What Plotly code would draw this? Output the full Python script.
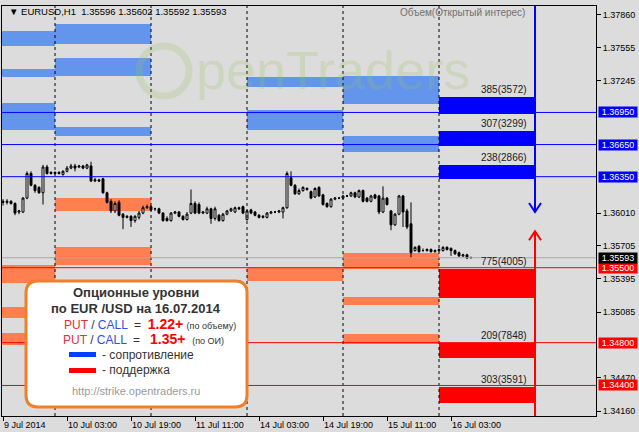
import plotly.graph_objects as go

# ---------------- data ----------------
bars = list(range(118))
opens = [1.3612,1.3611,1.3612,1.3610,1.3602,1.3602,1.3615,1.3638,1.3627,1.3625,
         1.3620,1.3644,1.3638,1.3639,1.3638,1.3637,1.3640,1.3643,1.3645,1.3644,
         1.3645,1.3643,1.3645,1.3631,1.3632,1.3633,1.3620,1.3612,1.3603,1.3611,
         1.3600,1.3597,1.3598,1.3594,1.3597,1.3601,1.3606,1.3607,1.3605,1.3605,
         1.3601,1.3596,1.3594,1.3601,1.3602,1.3598,1.3595,1.3601,1.3610,1.3609,
         1.3601,1.3601,1.3605,1.3596,1.3599,1.3594,1.3600,1.3603,1.3602,1.3606,
         1.3607,1.3595,1.3604,1.3602,1.3599,1.3597,1.3597,1.3601,1.3602,1.3602,
         1.3602,1.3606,1.3634,1.3627,1.3619,1.3622,1.3624,1.3621,1.3616,1.3625,
         1.3618,1.3610,1.3607,1.3614,1.3615,1.3615,1.3617,1.3617,1.3620,1.3616,
         1.3622,1.3615,1.3612,1.3618,1.3617,1.3602,1.3615,1.3603,1.3590,1.3600,
         1.3617,1.3603,1.3591,1.3566,1.3570,1.3566,1.3566,1.3567,1.3565,1.3566,
         1.3566,1.3569,1.3568,1.3566,1.3564,1.3561,1.3562,1.35596]
highs = [1.3614,1.3614,1.3613,1.3611,1.3604,1.3616,1.3640,1.3640,1.3628,1.3626,
         1.3646,1.3646,1.3640,1.3640,1.3640,1.3641,1.3645,1.3647,1.3647,1.3646,
         1.3646,1.3647,1.3649,1.3634,1.3633,1.3634,1.3621,1.3614,1.3612,1.3613,
         1.3601,1.3599,1.3599,1.3599,1.3603,1.3608,1.3609,1.3608,1.3606,1.3606,
         1.3602,1.3598,1.3602,1.3603,1.3603,1.3599,1.3602,1.3623,1.3612,1.3611,
         1.3603,1.3607,1.3606,1.3607,1.3600,1.3601,1.3604,1.3606,1.3607,1.3607,
         1.3608,1.3604,1.3605,1.3603,1.3600,1.3599,1.3602,1.3603,1.3603,1.3604,
         1.3607,1.3640,1.3640,1.3628,1.3624,1.3626,1.3625,1.3622,1.3625,1.3626,
         1.3619,1.3611,1.3615,1.3616,1.3616,1.3618,1.3618,1.3621,1.3621,1.3623,
         1.3623,1.3616,1.3618,1.3619,1.3618,1.3626,1.3616,1.3604,1.3601,1.3618,
         1.3618,1.3605,1.3611,1.3570,1.3571,1.3568,1.3568,1.3568,1.3567,1.3568,
         1.3570,1.3570,1.3569,1.3567,1.3565,1.3563,1.3563,1.35602]
lows = [1.3608,1.3609,1.3609,1.3599,1.3600,1.3601,1.3614,1.3626,1.3620,1.3619,
        1.3609,1.3637,1.3637,1.3637,1.3637,1.3636,1.3639,1.3642,1.3640,1.3643,
        1.3642,1.3642,1.3630,1.3630,1.3630,1.3619,1.3610,1.3601,1.3601,1.3598,
        1.3586,1.3596,1.3588,1.3592,1.3595,1.3600,1.3605,1.3603,1.3603,1.3600,
        1.3593,1.3593,1.3593,1.3600,1.3597,1.3594,1.3594,1.3600,1.3600,1.3600,
        1.3600,1.3600,1.3591,1.3594,1.3593,1.3593,1.3599,1.3602,1.3601,1.3604,
        1.3600,1.3594,1.3600,1.3598,1.3596,1.3596,1.3596,1.3600,1.3601,1.3601,
        1.3596,1.3605,1.3626,1.3618,1.3618,1.3621,1.3622,1.3614,1.3615,1.3616,
        1.3608,1.3606,1.3606,1.3613,1.3614,1.3614,1.3616,1.3616,1.3615,1.3615,
        1.3611,1.3611,1.3611,1.3614,1.3600,1.3601,1.3608,1.3585,1.3589,1.3599,
        1.3588,1.3586,1.3559,1.3565,1.3564,1.3565,1.3565,1.3564,1.3564,1.3565,
        1.3565,1.3566,1.3561,1.3562,1.3560,1.3560,1.3558,1.35592]
closes = [1.3611,1.3612,1.3610,1.3601,1.3603,1.3615,1.3638,1.3627,1.3622,1.3620,
          1.3644,1.3638,1.3639,1.3638,1.3639,1.3640,1.3643,1.3645,1.3643,1.3645,
          1.3643,1.3646,1.3631,1.3632,1.3631,1.3620,1.3611,1.3603,1.3610,1.3599,
          1.3597,1.3598,1.3594,1.3598,1.3601,1.3606,1.3607,1.3604,1.3605,1.3601,
          1.3594,1.3594,1.3601,1.3602,1.3598,1.3595,1.3600,1.3610,1.3601,1.3601,
          1.3602,1.3605,1.3596,1.3605,1.3594,1.3600,1.3603,1.3605,1.3606,1.3605,
          1.3601,1.3603,1.3601,1.3599,1.3597,1.3598,1.3601,1.3602,1.3602,1.3603,
          1.3606,1.3638,1.3627,1.3619,1.3622,1.3625,1.3623,1.3615,1.3624,1.3617,
          1.3609,1.3607,1.3614,1.3615,1.3615,1.3617,1.3617,1.3620,1.3616,1.3622,
          1.3612,1.3612,1.3617,1.3615,1.3602,1.3615,1.3609,1.3590,1.3600,1.3617,
          1.3602,1.3588,1.3564,1.3569,1.3565,1.3566,1.3567,1.3565,1.3566,1.3567,
          1.3569,1.3567,1.3566,1.3563,1.3561,1.3562,1.3559,1.35593]

tick_bars = [0, 16, 32, 48, 64, 80, 96, 112]
tick_labels = ["9 Jul 2014", "10 Jul 03:00", "10 Jul 19:00", "11 Jul 11:00",
               "14 Jul 03:00", "14 Jul 19:00", "15 Jul 11:00", "16 Jul 03:00"]
price_ticks = [1.37860, 1.37555, 1.37245, 1.36010, 1.35705, 1.35395, 1.35085,
               1.34470, 1.34160]

day_separators = [13, 37, 61, 85, 109]
day_columns = [(-0.25, 13), (13, 37), (37, 61), (61, 85), (85, 109), (109, 133)]

# past option levels: (day column, low, high)
past_resistance = [(0, 1.37570, 1.37710), (0, 1.37281, 1.37356), (0, 1.36786, 1.37038),
                   (1, 1.37589, 1.37776), (1, 1.37290, 1.37458), (1, 1.36730, 1.36814),
                   (3, 1.37187, 1.37281), (3, 1.36786, 1.36973),
                   (4, 1.37029, 1.37290), (4, 1.36580, 1.36730)]
past_support = [(0, 1.35357, 1.35525), (0, 1.35030, 1.35133), (0, 1.34778, 1.34890),
                (1, 1.36029, 1.36151), (1, 1.35525, 1.35693),
                (3, 1.35375, 1.35497),
                (4, 1.35488, 1.35637), (4, 1.35151, 1.35226), (4, 1.34787, 1.34880)]
# current day levels: (low, high, label)
today_resistance = [(1.36935, 1.37094, "385(3572)"), (1.36636, 1.36776, "307(3299)"),
                    (1.36328, 1.36459, "238(2866)")]
today_support = [(1.35217, 1.35488, "775(4005)"), (1.34656, 1.34796, "209(7848)"),
                 (1.34236, 1.34385, "303(3591)")]
resistance_lines = [1.3695, 1.3665, 1.3635]
support_lines = [1.3550, 1.3480, 1.3440]
last_price = 1.35593
arrow_bar = 133
resistance_arrow_tip = 1.3602
support_arrow_tip = 1.3584

x_range = [-0.25, 148.25]
y_range = [1.34115, 1.37944]

FONT = "Liberation Sans, Arial, DejaVu Sans"
BLUE_L, ORANGE_L, BLUE, RED = "#6495ED", "#FF7F50", "#0000FF", "#FF0000"

fig = go.Figure()
fig.add_trace(go.Candlestick(
    x=bars, open=opens, high=highs, low=lows, close=closes,
    increasing=dict(line=dict(color="black", width=1), fillcolor="white"),
    decreasing=dict(line=dict(color="black", width=1), fillcolor="black"),
    whiskerwidth=0, showlegend=False, hoverinfo="skip"))

shapes = []
for col, lo, hi in past_resistance:
    x0, x1 = day_columns[col]
    shapes.append(dict(type="rect", xref="x", yref="y", x0=x0, x1=x1, y0=lo, y1=hi,
                       fillcolor=BLUE_L, line=dict(width=0), layer="below"))
for col, lo, hi in past_support:
    x0, x1 = day_columns[col]
    shapes.append(dict(type="rect", xref="x", yref="y", x0=x0, x1=x1, y0=lo, y1=hi,
                       fillcolor=ORANGE_L, line=dict(width=0), layer="below"))
x0, x1 = day_columns[5]
for lo, hi, _ in today_resistance:
    shapes.append(dict(type="rect", xref="x", yref="y", x0=x0, x1=x1, y0=lo, y1=hi,
                       fillcolor=BLUE, line=dict(width=0), layer="below"))
for lo, hi, _ in today_support:
    shapes.append(dict(type="rect", xref="x", yref="y", x0=x0, x1=x1, y0=lo, y1=hi,
                       fillcolor=RED, line=dict(width=0), layer="below"))

for s in day_separators:
    shapes.append(dict(type="line", xref="x", yref="paper", x0=s, x1=s, y0=0, y1=1,
                       line=dict(color="black", width=1, dash="3px,3px")))
for lv in resistance_lines:
    shapes.append(dict(type="line", xref="paper", yref="y", x0=0, x1=1, y0=lv, y1=lv,
                       line=dict(color=BLUE, width=1)))
for lv in support_lines:
    shapes.append(dict(type="line", xref="paper", yref="y", x0=0, x1=1, y0=lv, y1=lv,
                       line=dict(color=RED, width=1)))
shapes.append(dict(type="line", xref="paper", yref="y", x0=0, x1=1, y0=last_price,
                   y1=last_price, line=dict(color="#A8A8A8", width=1)))

# arrows
shapes.append(dict(type="line", xref="x", yref="y", x0=arrow_bar, x1=arrow_bar,
                   y0=y_range[1], y1=resistance_arrow_tip, line=dict(color=BLUE, width=2)))
shapes.append(dict(type="path", xref="x", yref="y",
                   path=f"M {arrow_bar-1.5},{resistance_arrow_tip+0.00084} L {arrow_bar},{resistance_arrow_tip} L {arrow_bar+1.5},{resistance_arrow_tip+0.00084}",
                   line=dict(color=BLUE, width=2)))
shapes.append(dict(type="line", xref="x", yref="y", x0=arrow_bar, x1=arrow_bar,
                   y0=y_range[0], y1=support_arrow_tip, line=dict(color=RED, width=2)))
shapes.append(dict(type="path", xref="x", yref="y",
                   path=f"M {arrow_bar-1.5},{support_arrow_tip-0.00084} L {arrow_bar},{support_arrow_tip} L {arrow_bar+1.5},{support_arrow_tip-0.00084}",
                   line=dict(color=RED, width=2)))

# pixel helpers for decorative overlay (plot area 2..596 x 6..416)
def px(v):
    return (v - 2) / 594.0
def py(v):
    return 1 - (v - 6) / 410.0

# watermark ring
shapes.append(dict(type="circle", xref="paper", yref="paper", x0=px(139), x1=px(189),
                   y0=py(96), y1=py(46), line=dict(color="rgba(150,195,90,0.22)", width=7)))

# legend box (rounded)
L, R, T, B, r = 26, 247, 281, 407, 12
path = (f"M {px(L+r)},{py(T)} L {px(R-r)},{py(T)} Q {px(R)},{py(T)} {px(R)},{py(T+r)} "
        f"L {px(R)},{py(B-r)} Q {px(R)},{py(B)} {px(R-r)},{py(B)} "
        f"L {px(L+r)},{py(B)} Q {px(L)},{py(B)} {px(L)},{py(B-r)} "
        f"L {px(L)},{py(T+r)} Q {px(L)},{py(T)} {px(L+r)},{py(T)} Z")
shapes.append(dict(type="path", xref="paper", yref="paper", path=path,
                   fillcolor="white", line=dict(color="#F08028", width=3)))
shapes.append(dict(type="rect", xref="paper", yref="paper", x0=px(69), x1=px(96),
                   y0=py(357), y1=py(352), fillcolor="#0040FF", line=dict(width=0)))
shapes.append(dict(type="rect", xref="paper", yref="paper", x0=px(69), x1=px(96),
                   y0=py(373), y1=py(368), fillcolor=RED, line=dict(width=0)))

annotations = []
for lo, hi, lab in today_resistance + today_support:
    annotations.append(dict(x=131.5, y=hi, xref="x", yref="y", text=lab, showarrow=False,
                            xanchor="right", yanchor="bottom", yshift=0,
                            font=dict(family=FONT, size=10, color="#202020")))

def price_box(p, color):
    return dict(x=1, y=p, xref="paper", yref="y", text=f"{p:.5f}", showarrow=False,
                xanchor="left", yanchor="middle", xshift=2, width=38, height=10,
                bgcolor=color, borderpad=0, font=dict(family=FONT, size=9, color="white"))
for lv in resistance_lines:
    annotations.append(price_box(lv, BLUE))
for lv in support_lines:
    annotations.append(price_box(lv, RED))
annotations.append(price_box(last_price, "black"))

annotations.append(dict(x=px(7), y=py(11), xref="paper", yref="paper", showarrow=False,
                        xanchor="left", yanchor="middle",
                        text="▼ EURUSD,H1  1.35596 1.35602 1.35592 1.35593",
                        font=dict(family=FONT, size=9.5, color="black")))
annotations.append(dict(x=px(527), y=py(12), xref="paper", yref="paper", showarrow=False,
                        xanchor="right", yanchor="middle", text="Объем(Открытый интерес)",
                        font=dict(family=FONT, size=10, color="#707070")))
annotations.append(dict(x=px(194), y=py(70), xref="paper", yref="paper", showarrow=False,
                        xanchor="left", yanchor="middle", text="penTraders",
                        font=dict(family=FONT, size=54, color="rgba(150,195,90,0.22)")))

# legend box texts
annotations += [
    dict(x=px(136), y=py(292), text="<b>Опционные уровни</b>",
         font=dict(family=FONT, size=13, color="#333333")),
    dict(x=px(136), y=py(308), text="<b>по EUR /USD на 16.07.2014</b>",
         font=dict(family=FONT, size=13, color="#333333")),
    dict(x=px(150), y=py(324),
         text="<span style='color:#E03038'>PUT</span> / <span style='color:#3050D8'>CALL</span>"
              "  =  <b><span style='color:#FF0000;font-size:14px'>1.22+</span></b> "
              "<span style='font-size:9px'>(по объему)</span>",
         font=dict(family=FONT, size=12, color="#333333")),
    dict(x=px(143), y=py(339),
         text="<span style='color:#E03038'>PUT</span> / <span style='color:#3050D8'>CALL</span>"
              "  =   <b><span style='color:#FF0000;font-size:14px'>1.35+</span></b>  "
              "<span style='font-size:9px'>(по ОИ)</span>",
         font=dict(family=FONT, size=12, color="#333333")),
    dict(x=px(100), y=py(355), text="- сопротивление", xanchor="left",
         font=dict(family=FONT, size=12, color="#333333")),
    dict(x=px(100), y=py(370), text="- поддержка", xanchor="left",
         font=dict(family=FONT, size=12, color="#333333")),
    dict(x=px(136), y=py(391), text="http://strike.opentraders.ru",
         font=dict(family=FONT, size=11, color="#9A9A9A")),
]
for a in annotations[-7:]:
    a.setdefault("xref", "paper")
    a.setdefault("yref", "paper")
    a.setdefault("showarrow", False)
    a.setdefault("yanchor", "middle")
    a.setdefault("xanchor", "center")

fig.update_layout(
    width=639, height=432,
    margin=dict(l=2, r=43, t=6, b=16, autoexpand=False),
    paper_bgcolor="#DCDCDC", plot_bgcolor="#DCDCDC",
    shapes=shapes, annotations=annotations, showlegend=False,
    xaxis=dict(range=x_range, showgrid=False, zeroline=False, rangeslider=dict(visible=False),
               tickvals=tick_bars, ticktext=tick_labels, ticks="outside", ticklen=4,
               tickcolor="black", showline=True, linecolor="black", linewidth=1, mirror=True,
               ticklabelposition="outside right",
               tickfont=dict(family=FONT, size=9, color="black")),
    yaxis=dict(range=y_range, side="right", showgrid=False, zeroline=False,
               tickvals=price_ticks, ticktext=[f"{v:.5f}" for v in price_ticks],
               ticks="outside", ticklen=4, tickcolor="black", showline=True,
               linecolor="black", linewidth=1, mirror=True,
               tickfont=dict(family=FONT, size=9, color="black")),
)

fig.write_html("out.html", config={"displayModeBar": False},
               post_script="document.body.style.margin='0';document.body.style.background='#DCDCDC';")
